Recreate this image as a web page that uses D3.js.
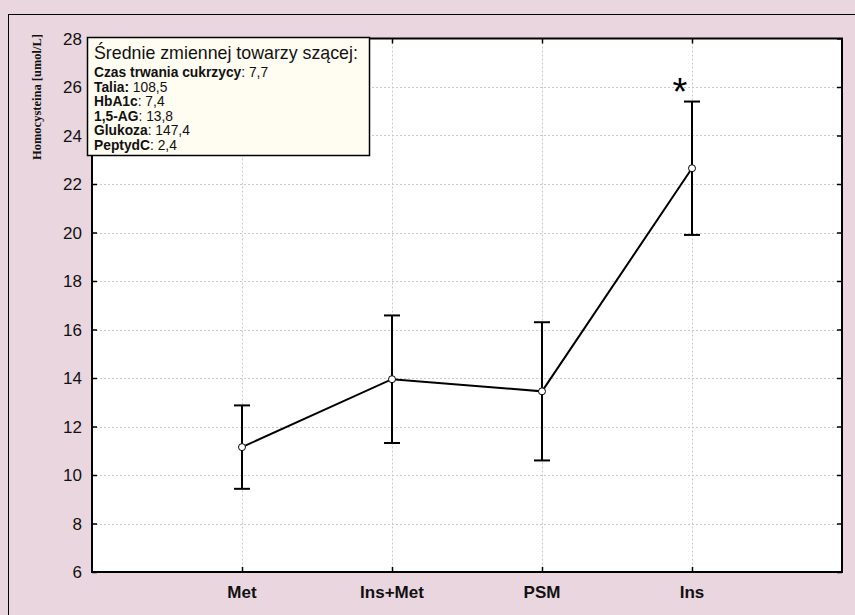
<!DOCTYPE html>
<html>
<head>
<meta charset="utf-8">
<script src="https://cdn.jsdelivr.net/npm/d3@7"></script>
<style>
  html, body { margin: 0; padding: 0; background: #e9d6df; }
  svg { display: block; }
</style>
</head>
<body>
<svg id="chart" width="855" height="615"></svg>
<script>
// Groups and Homocysteina means with confidence limits
const categories = ["Met", "Ins+Met", "PSM", "Ins"];
const means = [11.15, 13.95, 13.45, 22.65];
const lowerCI = [9.43, 11.32, 10.6, 19.9];
const upperCI = [12.87, 16.58, 16.3, 25.4];
const yTicks = [6, 8, 10, 12, 14, 16, 18, 20, 22, 24, 26, 28];
const significant = [false, false, false, true];

// Covariate means listed in the box
const covTitle = "Średnie zmiennej towarzy szącej:";
const covNames = ["Czas trwania cukrzycy", "Talia:", "HbA1c", "1,5-AG", "Glukoza", "PeptydC"];
const covValues = [": 7,7", " 108,5", ": 7,4", ": 13,8", ": 147,4", ": 2,4"];

const svg = d3.select("#chart");
const plot = { left: 92, right: 842, top: 38.5, bottom: 572 };

// outer frame
svg.append("rect").attr("x", 8.5).attr("y", 14.5).attr("width", 900).attr("height", 700)
  .attr("fill", "#e9d6df").attr("stroke", "#000").attr("stroke-width", 1);

const x = d3.scalePoint().domain(categories).range([plot.left, plot.right]).padding(1);
const y = d3.scaleLinear().domain([6, 28]).range([plot.bottom, plot.top]);

// plot background
svg.append("rect").attr("x", plot.left).attr("y", plot.top)
  .attr("width", plot.right - plot.left).attr("height", plot.bottom - plot.top)
  .attr("fill", "#fff");

// grid
const grid = svg.append("g").attr("stroke", "#c9c9c9").attr("stroke-width", 1)
  .attr("stroke-dasharray", "2,2");
yTicks.filter(t => t > 6 && t < 28).forEach(t => {
  grid.append("line").attr("x1", plot.left).attr("x2", plot.right)
    .attr("y1", Math.round(y(t)) + 0.5).attr("y2", Math.round(y(t)) + 0.5);
});
categories.forEach(c => {
  grid.append("line").attr("y1", plot.top).attr("y2", plot.bottom)
    .attr("x1", Math.round(x(c)) + 0.5).attr("x2", Math.round(x(c)) + 0.5);
});

// axes with inward ticks
const tickLen = 5;
const yLeft = d3.axisRight(y).tickValues(yTicks).tickSize(tickLen).tickFormat("");
const yRight = d3.axisLeft(y).tickValues(yTicks).tickSize(tickLen).tickFormat("");
const xBottom = d3.axisTop(x).tickSize(tickLen).tickFormat("");
const xTop = d3.axisBottom(x).tickSize(tickLen).tickFormat("");

function styleAxis(g) {
  g.selectAll("path.domain").remove();
  g.selectAll(".tick line").attr("stroke", "#000").attr("stroke-width", 1.5);
}
svg.append("g").attr("transform", `translate(${plot.left},0)`).call(yLeft).call(styleAxis);
svg.append("g").attr("transform", `translate(${plot.right},0)`).call(yRight).call(styleAxis);
svg.append("g").attr("transform", `translate(0,${plot.bottom})`).call(xBottom).call(styleAxis);
svg.append("g").attr("transform", `translate(0,${plot.top})`).call(xTop).call(styleAxis);

// frame
svg.append("rect").attr("x", plot.left).attr("y", plot.top)
  .attr("width", plot.right - plot.left).attr("height", plot.bottom - plot.top)
  .attr("fill", "none").attr("stroke", "#000").attr("stroke-width", 2);

// y tick labels
svg.append("g").selectAll("text").data(yTicks).join("text")
  .attr("x", 82).attr("y", d => y(d)).attr("dy", "0.36em")
  .attr("text-anchor", "end")
  .attr("font-family", "Liberation Sans, Arial, sans-serif")
  .attr("font-size", 17).attr("fill", "#111")
  .text(d => d);

// x tick labels
svg.append("g").selectAll("text").data(categories).join("text")
  .attr("x", d => x(d)).attr("y", 598)
  .attr("text-anchor", "middle")
  .attr("font-family", "Liberation Sans, Arial, sans-serif")
  .attr("font-weight", "bold")
  .attr("font-size", 17).attr("fill", "#111")
  .text(d => d);

// y axis title
svg.append("text")
  .attr("transform", "translate(41,97) rotate(-90)")
  .attr("text-anchor", "middle")
  .attr("font-family", "Liberation Serif, Times New Roman, serif")
  .attr("font-weight", "bold").attr("font-size", 12.5)
  .attr("fill", "#111")
  .text("Homocysteina [umol/L]");

// error bars
const cap = 8;
const eb = svg.append("g").attr("stroke", "#000").attr("stroke-width", 2);
categories.forEach((c, i) => {
  const cx = x(c);
  eb.append("line").attr("x1", cx).attr("x2", cx).attr("y1", y(lowerCI[i])).attr("y2", y(upperCI[i]));
  eb.append("line").attr("x1", cx - cap).attr("x2", cx + cap).attr("y1", y(lowerCI[i])).attr("y2", y(lowerCI[i]));
  eb.append("line").attr("x1", cx - cap).attr("x2", cx + cap).attr("y1", y(upperCI[i])).attr("y2", y(upperCI[i]));
});

// mean line
const pts = categories.map((c, i) => [x(c), y(means[i])]);
svg.append("path").attr("d", d3.line()(pts))
  .attr("fill", "none").attr("stroke", "#000").attr("stroke-width", 2);
svg.append("g").selectAll("circle").data(pts).join("circle")
  .attr("cx", d => d[0]).attr("cy", d => d[1]).attr("r", 3.5)
  .attr("fill", "#fff").attr("stroke", "#000").attr("stroke-width", 1);

// significance marks
categories.forEach((c, i) => {
  if (!significant[i]) return;
  svg.append("text").attr("x", x(c) - 12).attr("y", y(upperCI[i]) - 17)
    .attr("text-anchor", "middle")
    .attr("font-family", "Liberation Sans, Arial, sans-serif")
    .attr("font-size", 38).attr("fill", "#000")
    .attr("dy", "0.55em")
    .text("*");
});

// covariate box
const box = svg.append("g");
box.append("rect").attr("x", 87.5).attr("y", 37.5).attr("width", 282).attr("height", 118)
  .attr("fill", "#fffcf2").attr("stroke", "#000").attr("stroke-width", 1.5);
box.append("text").attr("x", 94).attr("y", 59)
  .attr("font-family", "Liberation Sans, Arial, sans-serif")
  .attr("font-size", 17.8).attr("fill", "#111")
  .text(covTitle);
covNames.forEach((n, i) => {
  const t = box.append("text").attr("x", 94).attr("y", 77 + i * 14.5)
    .attr("font-family", "Liberation Sans, Arial, sans-serif")
    .attr("font-size", 13.8).attr("fill", "#111");
  t.append("tspan").attr("font-weight", "bold").text(n);
  t.append("tspan").text(covValues[i]);
});
</script>
</body>
</html>
